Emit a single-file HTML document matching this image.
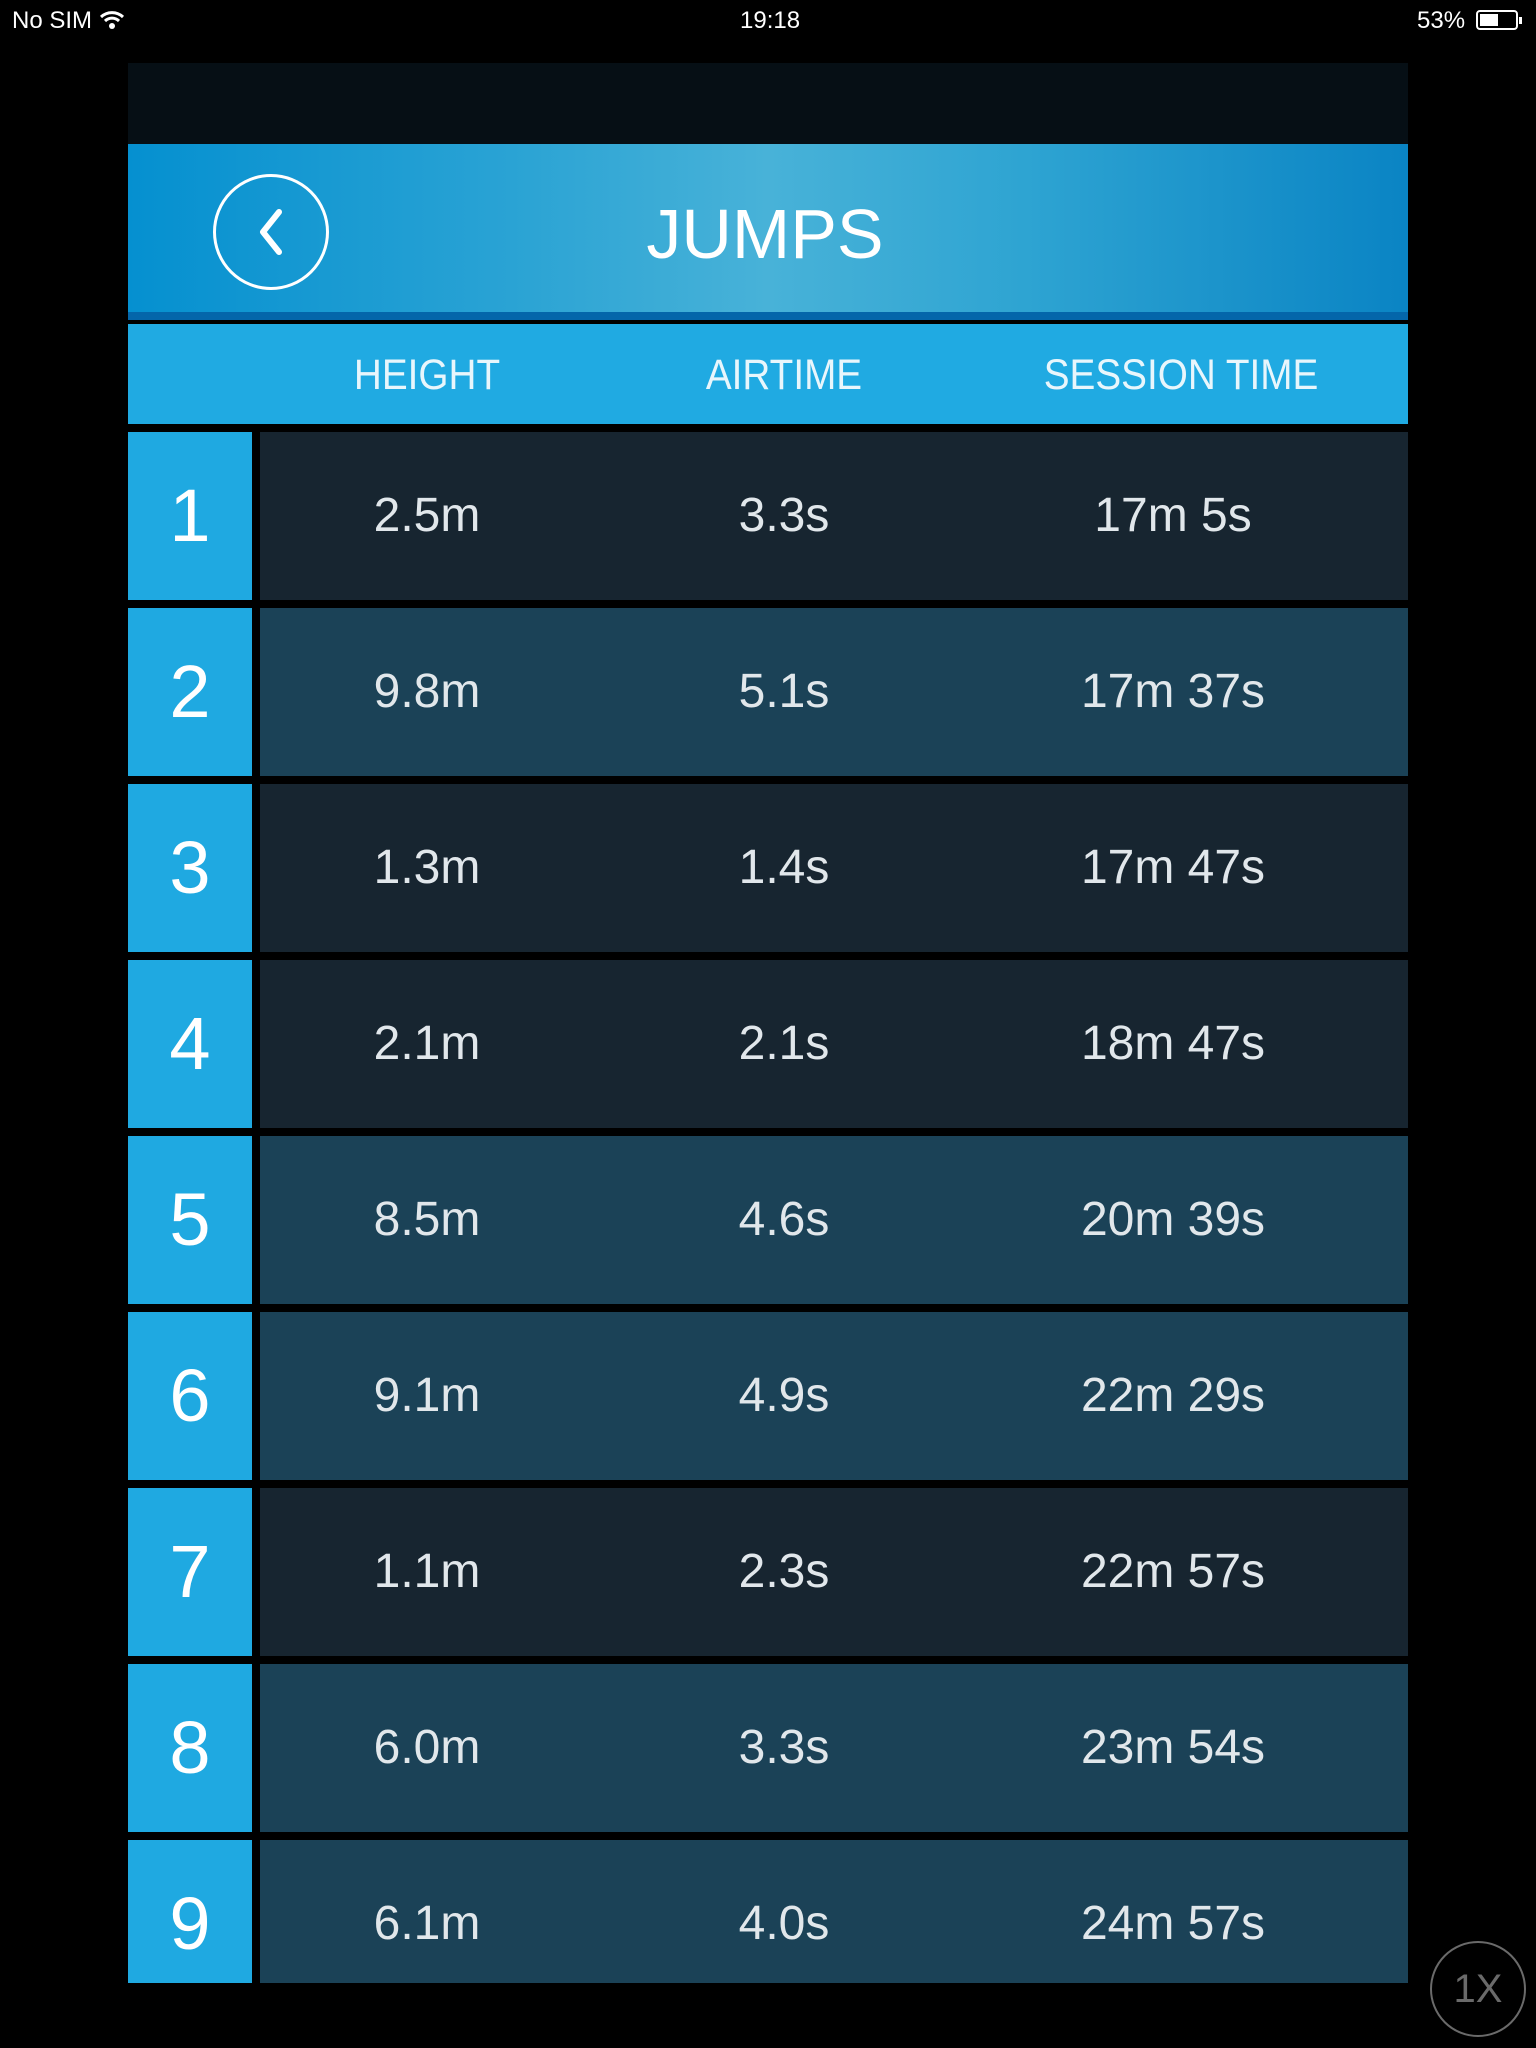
<!DOCTYPE html>
<html><head><meta charset="utf-8"><style>
*{margin:0;padding:0;box-sizing:border-box}
body{width:1536px;height:2048px;background:#000;position:relative;overflow:hidden;font-family:"Liberation Sans",sans-serif;color:#fff}
.abs{position:absolute}
.st{top:6px;font-size:24px;line-height:30px;color:#fff}
.row{position:absolute;left:128px;width:1280px;height:168px}
.num{position:absolute;left:0;top:0;width:124px;height:100%;background:#1fa9e1;font-size:74px;line-height:168px;text-align:center;color:#fff}
.cell{position:absolute;left:132px;right:0;top:0;height:100%}
.v{position:absolute;top:0;line-height:168px;font-size:48px;color:#e1e7eb;transform:translateX(-50%);white-space:nowrap}
.h{position:absolute;top:350px;font-size:43px;line-height:50px;color:#e8f6fc;transform:translateX(-50%) scaleX(0.9);white-space:nowrap}
</style></head><body>
<div class="abs st" style="left:12px">No SIM
<svg width="26" height="20" viewBox="0 0 26 20" style="vertical-align:-2px"><path d="M2 7 A16 16 0 0 1 24 7" stroke="#fff" stroke-width="3" fill="none"/><path d="M6 11 A10 10 0 0 1 20 11" stroke="#fff" stroke-width="3" fill="none"/><circle cx="13" cy="16" r="3" fill="#fff"/></svg></div>
<div class="abs st" style="left:740px">19:18</div>
<div class="abs st" style="left:1417px">53%</div>
<div class="abs" style="left:1476px;top:10px;width:42px;height:20px;border:2px solid #fff;border-radius:4px"><div style="position:absolute;left:2px;top:2px;width:18px;height:12px;background:#fff"></div><div style="position:absolute;right:-6px;top:5px;width:3px;height:7px;background:#fff"></div></div>

<div class="abs" style="left:128px;top:63px;width:1280px;height:81px;background:#060f15"></div>
<div class="abs" style="left:128px;top:144px;width:1280px;height:176px;background:linear-gradient(90deg,#0590d0 0%,#2aa3d4 30%,#48b2d8 50%,#2ea4d2 70%,#0a84c4 100%)">
<div style="position:absolute;left:0;bottom:0;width:100%;height:8px;background:#0466aa"></div>
<div style="position:absolute;left:85px;top:30px;width:116px;height:116px;border:3px solid #fff;border-radius:50%">
<svg width="116" height="116" viewBox="0 0 116 116" style="position:absolute;left:-3px;top:-3px"><path d="M66 38 L50 58 L66 78" stroke="#fff" stroke-width="6" fill="none" stroke-linecap="round" stroke-linejoin="round"/></svg></div>
<div style="position:absolute;left:637px;top:40px;font-size:70px;line-height:100px;transform:translateX(-50%);color:#fff">JUMPS</div>
</div>
<div class="abs" style="left:128px;top:324px;width:1280px;height:100px;background:#20aae2"></div>
<div class="h" style="left:427px">HEIGHT</div>
<div class="h" style="left:784px">AIRTIME</div>
<div class="h" style="left:1181px">SESSION TIME</div>
<div id="rows"></div>
<div class="abs" style="left:1430px;top:1941px;width:96px;height:96px;border:2px solid #6a6a6a;border-radius:50%;color:#6a6a6a;font-size:40px;line-height:92px;text-align:center">1X</div>
<script>
const heights=["2.5m","9.8m","1.3m","2.1m","8.5m","9.1m","1.1m","6.0m","6.1m"];
const airtimes=["3.3s","5.1s","1.4s","2.1s","4.6s","4.9s","2.3s","3.3s","4.0s"];
const sessions=["17m 5s","17m 37s","17m 47s","18m 47s","20m 39s","22m 29s","22m 57s","23m 54s","24m 57s"];
const shades=[0,1,0,0,1,1,0,1,1];
const wrap=document.getElementById('rows');
heights.forEach((h,i)=>{
  const r=document.createElement('div');
  r.className='row';
  r.style.top=(432+i*176)+'px';
  if(i===8) r.style.height='143px';
  
  
  const n=document.createElement('div');n.className='num';n.textContent=i+1;
  if(i===8) n.style.lineHeight='168px';
  
  
  const c=document.createElement('div');c.className='cell';
  c.style.background=shades[i]?'#1b4257':'#172530';
  
  
  [[h,299,'height-value'],[airtimes[i],656,'airtime-value'],[sessions[i],1045,'session-time-value']].forEach(([t,x,nm])=>{
    const s=document.createElement('div');s.className='v';s.textContent=t;s.style.left=(x-132)+'px';
    
    
    c.appendChild(s);
  });
  r.appendChild(n);r.appendChild(c);wrap.appendChild(r);
});
</script>
</body></html>
